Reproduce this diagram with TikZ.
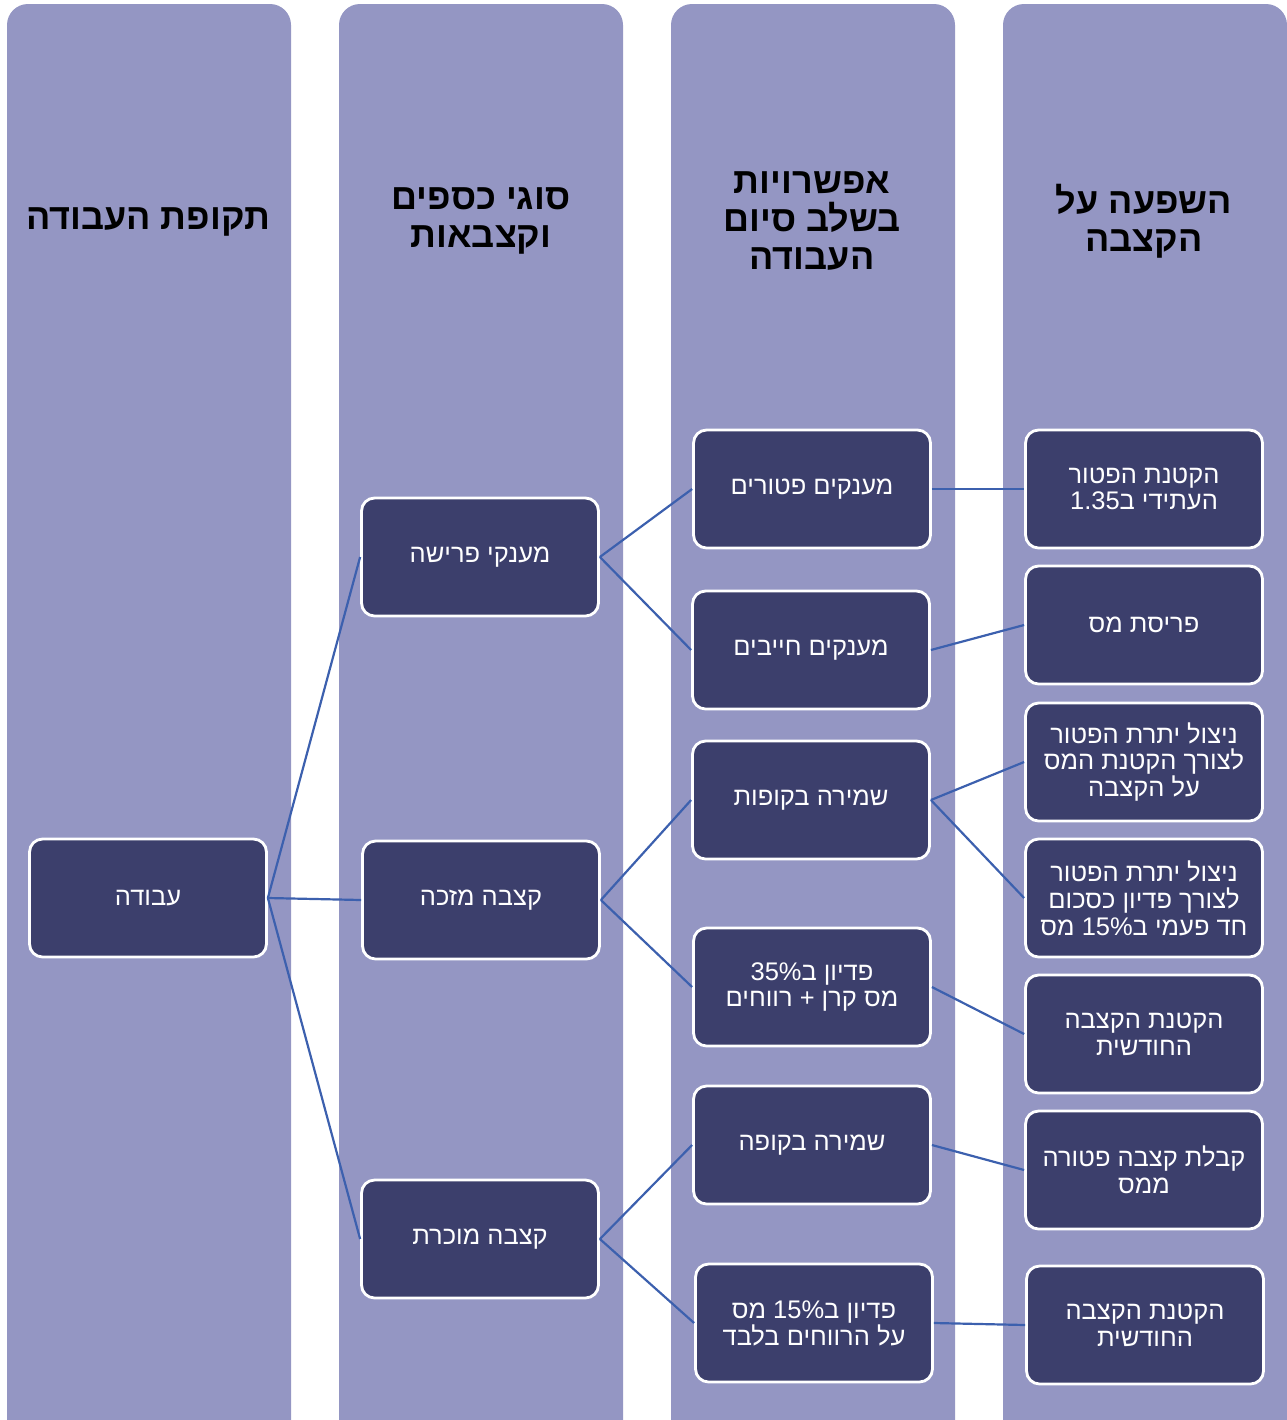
\documentclass[tikz,border=0pt]{standalone}
\usepackage{fontspec}
\setmainfont{Liberation Sans}
\newfontfamily\hebfont[Script=Hebrew]{Liberation Sans}
\TeXXeTstate=1
\definecolor{lanecol}{HTML}{9496C3}
\definecolor{boxcol}{HTML}{3C3F6C}
\definecolor{linkcol}{HTML}{3C60AE}
\newcommand{\rl}[1]{\beginR #1\endR}

\begin{document}
\begin{tikzpicture}[x=0.02cm,y=-0.02cm,
  lane/.style={fill=lanecol,rounded corners=0.42cm},
  hdr/.style={font=\hebfont\bfseries\fontsize{20.5}{21.8}\selectfont,align=center,text=black},
  box/.style={draw=white,line width=1.6pt,fill=boxcol,rounded corners=0.26cm,
    minimum width=4.74cm,minimum height=2.36cm,inner sep=0pt,text=white,align=center,
    font=\hebfont\fontsize{14.5}{15.3}\selectfont},
  link/.style={draw=linkcol,line width=1.25pt}]
\useasboundingbox (0,0) rectangle (1286,1420);
% columns
\fill[lane] (7,4) rectangle (291,1460);
\fill[lane] (339,4) rectangle (623,1460);
\fill[lane] (671,4) rectangle (955,1460);
\fill[lane] (1003,4) rectangle (1287,1460);
% headers
\node[hdr] (h1) at (148,222) {\rl{תקופת העבודה}};
\node[hdr] (h2) at (481,221) {\rl{סוגי כספים}\\ \rl{וקצבאות}};
\node[hdr] (h3) at (812,221) {\rl{אפשרויות}\\ \rl{בשלב סיום}\\ \rl{העבודה}};
\node[hdr] (h4) at (1144,221) {\rl{השפעה על}\\ \rl{הקצבה}};
% first and second column
\node[box] (avoda) at (148,898) {\rl{עבודה}};
\node[box] (prisha) at (480,557) {\rl{מענקי פרישה}};
\node[box] (mezaka) at (481,900) {\rl{קצבה מזכה}};
\node[box] (mukeret) at (480,1239) {\rl{קצבה מוכרת}};
% options
\node[box] (ptorim) at (812,489) {\rl{מענקים פטורים}};
\node[box] (hayavim) at (811,650) {\rl{מענקים חייבים}};
\node[box] (kupot) at (811,800) {\rl{שמירה בקופות}};
\node[box] (pidyon35) at (812,987) {\rl{פדיון ב35\%}\\ \rl{מס קרן + רווחים}};
\node[box] (kupa) at (812,1145) {\rl{שמירה בקופה}};
\node[box] (pidyon15) at (814,1323) {\rl{פדיון ב15\% מס}\\ \rl{על הרווחים בלבד}};
% effect on pension
\node[box] (ef1) at (1144,489) {\rl{הקטנת הפטור}\\ \rl{העתידי ב1.35}};
\node[box] (ef2) at (1144,625) {\rl{פריסת מס}};
\node[box] (ef3) at (1144,762) {\rl{ניצול יתרת הפטור}\\ \rl{לצורך הקטנת המס}\\ \rl{על הקצבה}};
\node[box] (ef4) at (1144,898) {\rl{ניצול יתרת הפטור}\\ \rl{לצורך פדיון כסכום}\\ \rl{חד פעמי ב15\% מס}};
\node[box] (ef5) at (1144,1034) {\rl{הקטנת הקצבה}\\ \rl{החודשית}};
\node[box] (ef6) at (1144,1170) {\rl{קבלת קצבה פטורה}\\ \rl{ממס}};
\node[box] (ef7) at (1145,1325) {\rl{הקטנת הקצבה}\\ \rl{החודשית}};
% connectors
\draw[link] (avoda.east) -- (prisha.west);
\draw[link] (avoda.east) -- (mezaka.west);
\draw[link] (avoda.east) -- (mukeret.west);
\draw[link] (prisha.east) -- (ptorim.west);
\draw[link] (prisha.east) -- (hayavim.west);
\draw[link] (mezaka.east) -- (kupot.west);
\draw[link] (mezaka.east) -- (pidyon35.west);
\draw[link] (mukeret.east) -- (kupa.west);
\draw[link] (mukeret.east) -- (pidyon15.west);
\draw[link] (ptorim.east) -- (ef1.west);
\draw[link] (hayavim.east) -- (ef2.west);
\draw[link] (kupot.east) -- (ef3.west);
\draw[link] (kupot.east) -- (ef4.west);
\draw[link] (pidyon35.east) -- (ef5.west);
\draw[link] (kupa.east) -- (ef6.west);
\draw[link] (pidyon15.east) -- (ef7.west);
\end{tikzpicture}
\end{document}
